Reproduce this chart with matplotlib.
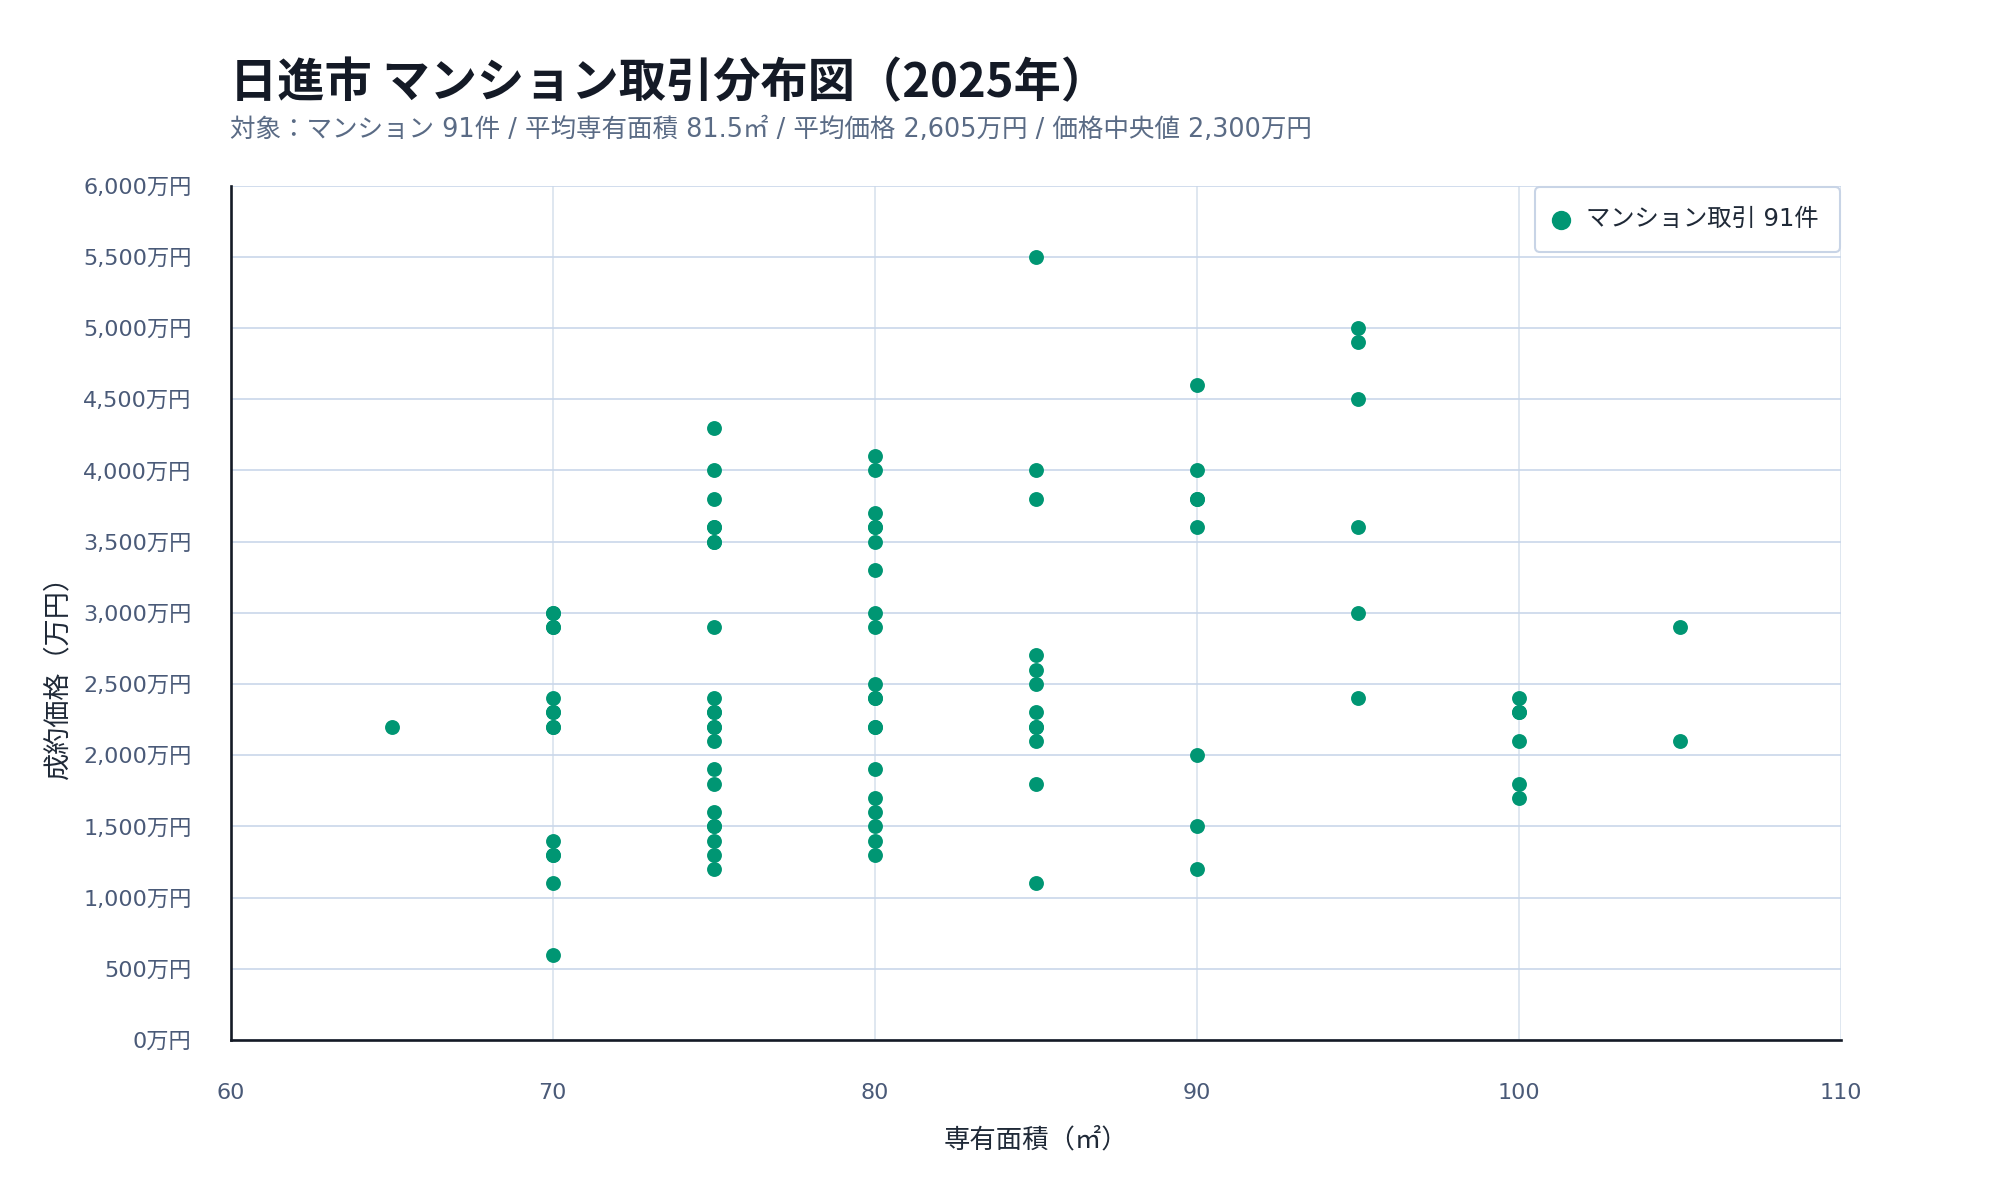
import matplotlib
matplotlib.use("Agg")
import matplotlib.pyplot as plt
from matplotlib.ticker import FuncFormatter

plt.rcParams['font.family'] = ['DejaVu Sans', 'Noto Sans CJK JP']

# 専有面積（㎡）と成約価格（万円）: 重なっている点も含めて 91 件
area = [65,
        70, 70, 70, 70, 70, 70, 70, 70, 70,
        75, 75, 75, 75, 75, 75, 75, 75, 75, 75, 75, 75, 75, 75, 75, 75, 75,
        80, 80, 80, 80, 80, 80, 80, 80, 80, 80, 80, 80, 80, 80, 80, 80, 80,
        85, 85, 85, 85, 85, 85, 85, 85, 85, 85, 85,
        90, 90, 90, 90, 90, 90, 90,
        95, 95, 95, 95, 95, 95,
        100, 100, 100, 100, 100,
        105, 105,
        # 重複
        70, 70, 70, 70, 70,
        75, 75, 75, 75, 75,
        80, 80, 80,
        85, 90, 100]
price = [2200,
         3000, 2900, 2400, 2300, 2200, 1400, 1300, 1100, 600,
         4300, 4000, 3800, 3600, 3500, 2900, 2400, 2300, 2200, 2100, 1900, 1800, 1600, 1500, 1400, 1300, 1200,
         4100, 4000, 3700, 3600, 3500, 3300, 3000, 2900, 2500, 2400, 2200, 1900, 1700, 1600, 1500, 1400, 1300,
         5500, 4000, 3800, 2700, 2600, 2500, 2300, 2200, 2100, 1800, 1100,
         4600, 4000, 3800, 3600, 2000, 1500, 1200,
         5000, 4900, 4500, 3600, 3000, 2400,
         2400, 2300, 2100, 1800, 1700,
         2900, 2100,
         2300, 2200, 2900, 1300, 3000,
         2300, 2200, 1500, 3600, 3500,
         2400, 2200, 3600,
         2200, 3800, 2300]

title = '日進市 マンション取引分布図（2025年）'
subtitle = '対象：マンション 91件 / 平均専有面積 81.5㎡ / 平均価格 2,605万円 / 価格中央値 2,300万円'
legend_label = 'マンション取引 91件'
x_ticks = [60, 70, 80, 90, 100, 110]
y_ticks = list(range(0, 6001, 500))

fig = plt.figure(figsize=(20, 12), dpi=100)
ax = fig.add_axes([230.5 / 2000, 1 - 1040 / 1200, (1841 - 230.5) / 2000, (1040 - 185.5) / 1200])

ax.scatter(area, price, s=115, color='#009673', linewidths=0, zorder=3, label=legend_label)

ax.set_xlim(60, 110)
ax.set_ylim(0, 6000)
ax.set_xticks(x_ticks)
ax.set_yticks(y_ticks)
ax.yaxis.set_major_formatter(FuncFormatter(lambda v, p: f'{int(v):,}万円'))

ax.grid(True, axis='y', color='#c9d7ea', linewidth=1.2, zorder=0)
ax.grid(True, axis='x', color='#d6e0ec', linewidth=1.1, zorder=0)
ax.set_axisbelow(True)
for side in ['top', 'right']:
    ax.spines[side].set_visible(False)
for side in ['left', 'bottom']:
    ax.spines[side].set_color('#141a26')
    ax.spines[side].set_linewidth(1.9)

ax.tick_params(axis='both', length=0, labelsize=16, labelcolor='#4a5a78')
ax.tick_params(axis='x', pad=31)
ax.tick_params(axis='y', pad=28)

ax.set_xlabel('専有面積（㎡）', fontsize=19, color='#1f2937', family=['Noto Sans CJK JP'], labelpad=17)
ax.set_ylabel('成約価格（万円）', fontsize=19.5, color='#1f2937', family=['Noto Sans CJK JP'])
ax.yaxis.set_label_coords(-0.099, 0.432)

fig.text(230.5 / 2000, 1 - 83 / 1200, title, fontsize=34, fontweight='bold', color='#141a26',
         family=['Noto Sans CJK JP'], va='center', ha='left')
fig.text(230.5 / 2000, 1 - 130 / 1200, subtitle, fontsize=18.4, color='#5a6b85',
         va='center', ha='left')

leg = ax.legend(loc='upper right', borderaxespad=0.05, frameon=True, fancybox=True,
                edgecolor='#c8d4e6', framealpha=1, borderpad=0.85, handlelength=0.4,
                handletextpad=0.85, markerscale=1.3, prop={'size': 17.5})
leg.get_frame().set_linewidth(1.5)
for t in leg.get_texts():
    t.set_color('#1f2937')

fig.savefig('out.png', dpi=100, facecolor='white')
